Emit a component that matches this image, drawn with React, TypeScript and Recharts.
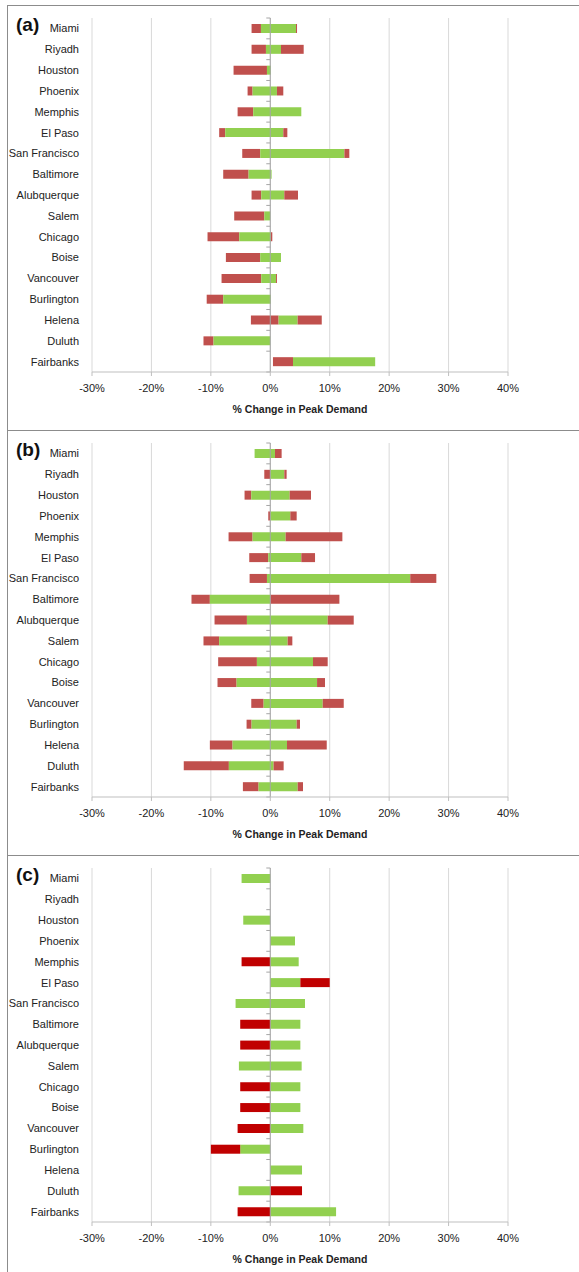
import React from "react"
import { BarChart, Bar, XAxis, YAxis, CartesianGrid, ReferenceLine } from "recharts"

const cities = [
  "Miami", "Riyadh", "Houston", "Phoenix", "Memphis", "El Paso", "San Francisco", "Baltimore",
  "Alubquerque", "Salem", "Chicago", "Boise", "Vancouver", "Burlington", "Helena", "Duluth", "Fairbanks",
]

const xTicks = [-30, -20, -10, 0, 10, 20, 30, 40]

// panel (a): red from low to greenLow, green to greenHigh, red again to high
const aLow = [-3.15, -3.15, -6.18, -3.82, -5.5, -8.6, -4.72, -7.92, -3.15, -6.07, -10.56, -7.47, -8.2, -10.7, -3.26, -11.24, 0.45]
const aGreenLow = [-1.57, -0.73, -0.56, -2.98, -2.87, -7.58, -1.69, -3.65, -1.52, -1.01, -5.22, -1.69, -1.52, -7.92, 1.4, -9.55, 3.82]
const aGreenHigh = [4.33, 1.8, 0.11, 1.12, 5.22, 2.19, 12.47, 0.22, 2.36, 0, 0.11, 1.8, 0.96, 0.11, 4.6, 0, 17.65]
const aHigh = [4.5, 5.62, 0.11, 2.19, 5.22, 2.87, 13.3, 0.22, 4.66, 0, 0.34, 1.8, 1.12, 0.11, 8.66, 0, 17.65]

// panel (b)
const bLow = [-2.64, -1.01, -4.33, -0.34, -7.02, -3.54, -3.48, -13.26, -9.38, -11.24, -8.77, -8.88, -3.2, -3.99, -10.17, -14.56, -4.61]
const bGreenLow = [-2.64, 0, -3.2, 0, -2.98, -0.34, -0.56, -10.17, -3.93, -8.6, -2.25, -5.67, -1.12, -3.15, -6.35, -6.97, -1.97]
const bGreenHigh = [0.79, 2.36, 3.26, 3.37, 2.58, 5.22, 23.55, 0, 9.66, 2.92, 7.19, 7.87, 8.82, 4.44, 2.81, 0.56, 4.61]
const bHigh = [1.91, 2.75, 6.85, 4.44, 12.13, 7.53, 27.94, 11.63, 14.04, 3.71, 9.66, 9.21, 12.36, 5.0, 9.5, 2.25, 5.51]

// panel (c): separate green and red ranges
const cGreenLow = [-4.83, 0, -4.55, 0, 0, 0, -5.84, 0, 0, -5.28, 0, 0, 0, -5.06, 0, -5.34, 0]
const cGreenHigh = [0, 0, 0, 4.16, 4.78, 5.06, 5.84, 5.06, 5.06, 5.28, 5.06, 5.06, 5.56, 0, 5.34, 0, 11.07]
const cRedLow = [0, 0, 0, 0, -4.83, 5.06, 0, -5.06, -5.06, 0, -5.06, -5.06, -5.5, -10, 0, 0, -5.5]
const cRedHigh = [0, 0, 0, 0, 0, 10, 0, 0, 0, 0, 0, 0, 0, -5.06, 0, 5.34, 0]

const GREEN = "#92D050"
const RED = "#C0504D"
const DARK_RED = "#C00000"
const FONT = "'Liberation Sans', Arial, sans-serif"

const dataA = cities.map((name, i) => ({
  name,
  redL: [aLow[i], aGreenLow[i]],
  green: [aGreenLow[i], aGreenHigh[i]],
  redR: [aGreenHigh[i], aHigh[i]],
}))

const dataB = cities.map((name, i) => ({
  name,
  redL: [bLow[i], bGreenLow[i]],
  green: [bGreenLow[i], bGreenHigh[i]],
  redR: [bGreenHigh[i], bHigh[i]],
}))

const dataC = cities.map((name, i) => ({
  name,
  green: [cGreenLow[i], cGreenHigh[i]],
  red: [cRedLow[i], cRedHigh[i]],
}))

// vertical category axis crossing at 0%, with small ticks between categories
function ZeroAxis(props: any) {
  const { x1, y1, x2, y2 } = props
  const n = cities.length
  const step = (y2 - y1) / n
  return (
    <g>
      <line x1={x1} y1={y1} x2={x2} y2={y2} stroke="#a6a6a6" strokeWidth={1} />
      {Array.from({ length: n + 1 }, (_, i) => (
        <line key={i} x1={x1 - 4} x2={x1} y1={y1 + i * step} y2={y1 + i * step} stroke="#a6a6a6" />
      ))}
    </g>
  )
}

// single-line city labels (no wrapping)
function CityTick({ x, y, payload }: any) {
  return (
    <text x={x - 11} y={y} dy={4} textAnchor="end" fill="#222" fontSize={11} fontFamily={FONT}>
      {payload.value}
    </text>
  )
}

function Panel({ label, data, height, children }: any) {
  return (
    <div style={{ position: "relative", width: 572, height, borderTop: "1px solid #8c8c8c" }}>
      <div style={{ position: "absolute", left: 8, top: 9, fontFamily: FONT, fontWeight: 700, fontSize: 19, lineHeight: 1, color: "#111" }}>
        {label}
      </div>
      <BarChart
        width={572}
        height={height - 1}
        data={data}
        layout="vertical"
        barSize={9}
        barGap={-9}
        margin={{ top: 12, right: 72, left: 0, bottom: height - 1 - 12 - 354 - 30 }}
      >
        <CartesianGrid horizontal={false} stroke="#d9d9d9" />
        <XAxis
          type="number"
          domain={[-30, 40]}
          ticks={xTicks}
          tickFormatter={(v: number) => `${v}%`}
          height={30}
          tickSize={4}
          tickMargin={8}
          stroke="#bfbfbf"
          tick={{ fill: "#222", fontSize: 11, fontFamily: FONT }}
        />
        <YAxis
          type="category"
          dataKey="name"
          width={84}
          axisLine={false}
          tickLine={false}
          tickSize={0}
          interval={0}
          tick={<CityTick />}
        />
        <ReferenceLine x={0} shape={ZeroAxis} />
        {children}
      </BarChart>
      <div
        style={{
          position: "absolute",
          left: 84,
          width: 416,
          top: 397,
          textAlign: "center",
          fontFamily: FONT,
          fontWeight: 700,
          fontSize: 10.5,
          color: "#222",
        }}
      >
        % Change in Peak Demand
      </div>
    </div>
  )
}

export default function App() {
  return (
    <div style={{ position: "relative", width: 579, height: 1272, background: "#fff" }}>
      <style>{"body{margin:0}"}</style>
      <div style={{ position: "absolute", left: 7, top: 5, borderLeft: "1px solid #8c8c8c", height: 1267 }}>
        <Panel label="(a)" data={dataA} height={424}>
          <Bar dataKey="redL" fill={RED} isAnimationActive={false} />
          <Bar dataKey="green" fill={GREEN} isAnimationActive={false} />
          <Bar dataKey="redR" fill={RED} isAnimationActive={false} />
        </Panel>
        <Panel label="(b)" data={dataB} height={424}>
          <Bar dataKey="redL" fill={RED} isAnimationActive={false} />
          <Bar dataKey="green" fill={GREEN} isAnimationActive={false} />
          <Bar dataKey="redR" fill={RED} isAnimationActive={false} />
        </Panel>
        <Panel label="(c)" data={dataC} height={419}>
          <Bar dataKey="green" fill={GREEN} isAnimationActive={false} />
          <Bar dataKey="red" fill={DARK_RED} isAnimationActive={false} />
        </Panel>
      </div>
    </div>
  )
}
